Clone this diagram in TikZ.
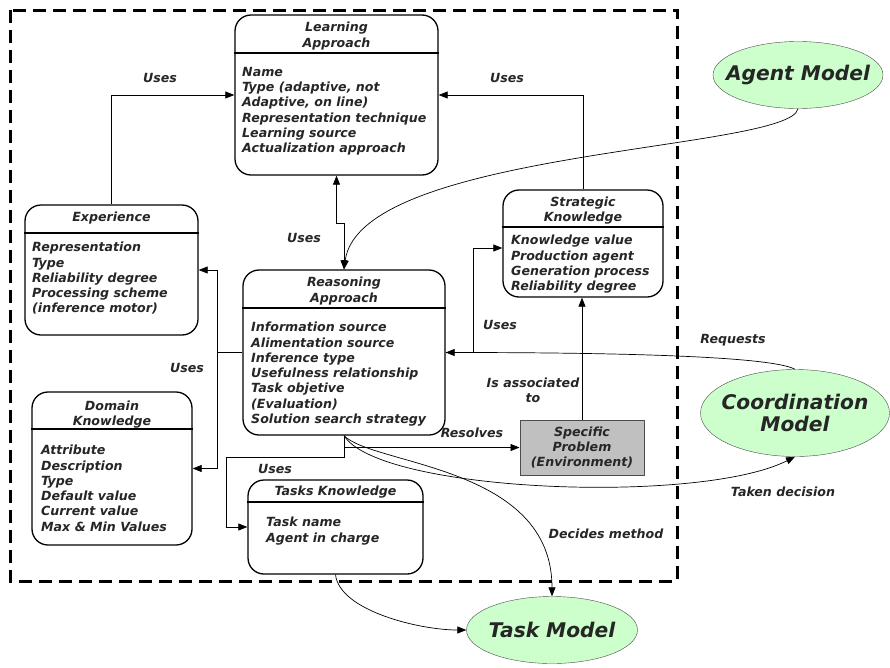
\documentclass[tikz,border=0pt]{standalone}
\usepackage{fontspec}
\setmainfont{DejaVu Sans}
\usetikzlibrary{arrows.meta,shapes.geometric,calc}

\definecolor{modelgreen}{HTML}{CCFFCC}
\definecolor{probgray}{HTML}{C0C0C0}
\definecolor{inkgray}{HTML}{262626}

\begin{document}
\begin{tikzpicture}[
  x=1pt, y=-1pt,
  >={Triangle[length=9pt,width=7pt]},
  every node/.style={font=\fontsize{12.6}{15.3}\selectfont\bfseries\itshape, text=inkgray},
  box/.style={draw, rounded corners=16pt, line width=1.3pt, inner sep=0pt},
  head/.style={align=center, inner sep=0pt},
  body/.style={align=left, anchor=north west, inner sep=0pt},
  prob/.style={draw=black!70, fill=probgray, line width=1pt, align=center, inner sep=0pt},
  model/.style={ellipse, draw=black!70, fill=modelgreen, inner sep=-15pt, align=center,
    font=\fontsize{20.2}{22}\selectfont\bfseries\itshape},
  lbl/.style={align=center, inner sep=0pt},
  sep/.style={line width=1.1pt},
  arr/.style={->, line width=0.7pt}
]
\useasboundingbox (0,0) rectangle (890,667);

% agent frame
\draw[line width=3pt, dash pattern=on 13pt off 7pt] (10,10) rectangle (677,581);

% knowledge boxes
\node[box, minimum width=203pt, minimum height=160pt] (la) at (336.5,95) {};
\node[head] (lat) at (336.5,36) {Learning\\Approach};
\draw[sep] (la.west |- 0,53) -- (la.east |- 0,53);
\node[body] (lab) at (242,67) {Name\\Type (adaptive, not\\Adaptive, on line)\\Representation technique\\Learning source\\Actualization approach};

\node[box, minimum width=173pt, minimum height=130pt] (ex) at (111.5,270) {};
\node[head] (ext) at (111.5,218) {Experience};
\draw[sep] (ex.west |- 0,233) -- (ex.east |- 0,233);
\node[body] (exb) at (32,242) {Representation\\Type\\Reliability degree\\Processing scheme\\(inference motor)};

\node[box, minimum width=202pt, minimum height=165pt] (ra) at (344,352.5) {};
\node[head] (rat) at (344,291) {Reasoning\\Approach};
\draw[sep] (ra.west |- 0,308) -- (ra.east |- 0,308);
\node[body] (rab) at (251,322) {Information source\\Alimentation source\\Inference type\\Usefulness relationship\\Task objetive\\(Evaluation)\\Solution search strategy};

\node[box, minimum width=160pt, minimum height=107pt] (sk) at (583,243.5) {};
\node[head] (skt) at (583,210.5) {Strategic\\Knowledge};
\draw[sep] (sk.west |- 0,227) -- (sk.east |- 0,227);
\node[body] (skb) at (511,235) {Knowledge value\\Production agent\\Generation process\\Reliability degree};

\node[box, minimum width=160pt, minimum height=153pt] (dk) at (112,468.5) {};
\node[head] (dkt) at (112,414.5) {Domain\\Knowledge};
\draw[sep] (dk.west |- 0,429) -- (dk.east |- 0,429);
\node[body] (dkb) at (41,445) {Attribute\\Description\\Type\\Default value\\Current value\\Max \& Min Values};

\node[box, minimum width=175pt, minimum height=94pt] (tk) at (335.5,527) {};
\node[head] (tkt) at (335.5,492) {Tasks Knowledge};
\draw[sep] (tk.west |- 0,502) -- (tk.east |- 0,502);
\node[body] (tkb) at (266,517) {Task name\\Agent in charge};

\node[prob, minimum width=124pt, minimum height=55pt] (sp) at (582,447.5) {Specific\\Problem\\(Environment)};

% models
\node[model, minimum width=170pt, minimum height=67pt] (am) at (798,75) {Agent Model};
\node[model, minimum width=189pt, minimum height=87pt] (cm) at (795,413) {Coordination\\Model};
\node[model, minimum width=171pt, minimum height=67pt] (tm) at (552,630) {Task Model};

% connectors
\draw[arr] (ex.north) |- (la.west);
\draw[arr] (sk.north) |- (la.east);
\draw[arr, <->] (la.south) -- ++(0,48) -| (ra.north);
\draw[arr] (am.south) .. controls +(-8,42) and +(16,-120) .. (ra.north);
\draw[arr] (ra.east) -- ++(28,0) |- ([yshift=-4.5pt]sk.west);
\draw[arr] (cm.north) .. controls +(-25,-14) and +(150,0) .. (ra.east);
\draw[arr] (sp.north) -- (sp.north |- sk.south);
\draw[arr] (ra.south) |- (sp.west);
\draw[arr] (ra.south) |- ++(-118,22) |- (tk.west);
\draw[arr] (ra.west) -- ++(-25,0) |- (ex.east);
\draw[arr] (ra.west) -- ++(-25,0) |- (dk.east);
\draw[arr] (ra.south) .. controls +(30,30) and +(0,-131) .. (tm.north);
\draw[arr] (ra.south) .. controls +(36,57) and +(-95,48) .. (cm.south);
\draw[arr] (tk.south) .. controls +(4,36) and +(-47,0) .. (tm.west);

% connector labels
\node[lbl] (u1) at (160,78) {Uses};
\node[lbl] (u2) at (507,78) {Uses};
\node[lbl] (u3) at (304,238) {Uses};
\node[lbl] (u4) at (500,325) {Uses};
\node[lbl] (u5) at (187,368) {Uses};
\node[lbl] (u6) at (275,469) {Uses};
\node[lbl] (res) at (472,433) {Resolves};
\node[lbl] (assoc) at (533,390.5) {Is associated\\to};
\node[lbl] (req) at (733,340) {Requests};
\node[lbl] (dec) at (783,492) {Taken decision};
\node[lbl] (meth) at (606,534) {Decides method};
\end{tikzpicture}
\end{document}
